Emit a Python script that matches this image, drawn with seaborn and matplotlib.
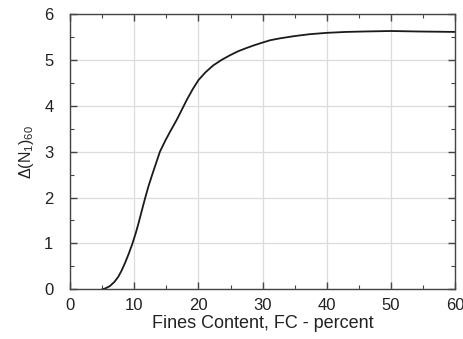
import matplotlib
matplotlib.use("Agg")
import matplotlib.pyplot as plt
import seaborn as sns
import pandas as pd
from matplotlib.ticker import MultipleLocator

fines_content = [5.0, 5.5, 6.2, 6.9, 7.5, 8.0, 8.55, 9.1, 9.7, 10.2, 10.63, 11.15, 11.66, 12.2, 12.8, 13.4, 14.0, 14.8, 15.6, 16.6, 17.4, 18.15, 19.1, 20.0, 21.1, 22.3, 23.6, 24.9, 26.2, 27.5, 28.7, 29.8, 31.2, 32.7, 35.0, 37.3, 40.0, 43.0, 46.0, 50.0, 54.0, 57.0, 60.0]
delta_n160 = [0.0, 0.02, 0.07, 0.16, 0.27, 0.40, 0.57, 0.76, 0.99, 1.21, 1.42, 1.70, 1.97, 2.24, 2.50, 2.75, 3.00, 3.23, 3.44, 3.69, 3.91, 4.12, 4.36, 4.56, 4.73, 4.88, 5.00, 5.10, 5.19, 5.26, 5.32, 5.37, 5.43, 5.47, 5.52, 5.56, 5.59, 5.61, 5.62, 5.63, 5.62, 5.615, 5.61]

df = pd.DataFrame({"fc": fines_content, "dn": delta_n160})

sns.set_style("white")
plt.rcParams['font.family'] = ['Liberation Sans', 'DejaVu Sans']
plt.rcParams['mathtext.fontset'] = 'custom'
plt.rcParams['mathtext.rm'] = 'Liberation Sans'
plt.rcParams['mathtext.it'] = 'Liberation Sans'

fig = plt.figure(figsize=(4.64, 3.39), dpi=100)
ax = fig.add_axes([0.151, 0.1466, 0.830, 0.812])

sns.lineplot(data=df, x="fc", y="dn", ax=ax, color="#1a1a1a", linewidth=1.3)

ax.set_xlim(0, 60)
ax.set_ylim(0, 6)
ax.xaxis.set_major_locator(MultipleLocator(10))
ax.xaxis.set_minor_locator(MultipleLocator(5))
ax.yaxis.set_major_locator(MultipleLocator(1))
ax.yaxis.set_minor_locator(MultipleLocator(0.5))

ax.grid(True, which="major", color="#dcdcdc", linewidth=0.9)
ax.set_axisbelow(True)

edge = "#444444"
for s in ax.spines.values():
    s.set_color(edge)
    s.set_linewidth(1.0)
    s.set_visible(True)

ax.tick_params(which="both", direction="in", top=True, right=True, bottom=True, left=True, color=edge)
ax.tick_params(which="major", length=5, width=1.0, labelsize=12, labelcolor="#222222")
ax.tick_params(axis="x", which="major", pad=6)
ax.tick_params(axis="y", which="major", pad=12)
ax.tick_params(which="minor", length=3, width=0.8)

ax.set_xlabel("Fines Content, FC - percent", fontsize=13, color="#222222", labelpad=2)
ax.set_ylabel(r"$\Delta(\mathregular{N_1})_{60}$", fontsize=11.5, color="#222222", labelpad=6)

fig.savefig("out.png", dpi=100)
